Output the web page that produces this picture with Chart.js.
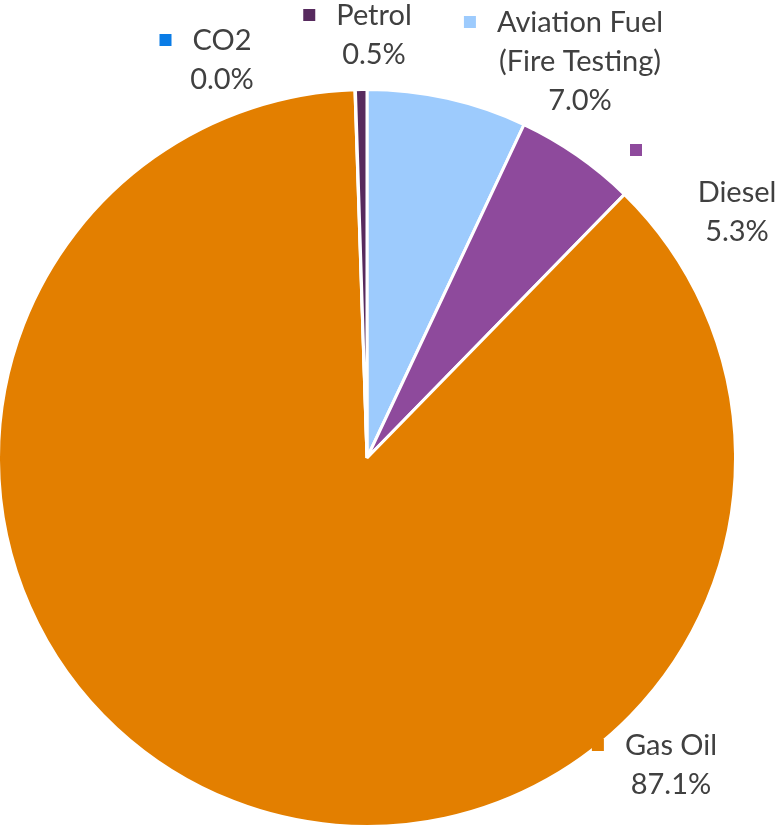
<!DOCTYPE html>
<html>
<head>
<meta charset="utf-8">
<script src="https://cdn.jsdelivr.net/npm/chart.js@4.4.0/dist/chart.umd.min.js"></script>
<style>
  html, body { margin: 0; padding: 0; background: #fff; overflow: hidden; }
  #wrap { width: 777px; height: 825px; overflow: hidden; position: relative; }
  #inner { position: absolute; left: -3px; top: -3px; width: 780px; height: 831px; }
</style>
</head>
<body>
<div id="wrap"><div id="inner"><canvas id="pie"></canvas></div></div>
<script>
// --- Data (clockwise from 12 o'clock) ---
const categories = ['Aviation Fuel (Fire Testing)', 'Diesel', 'Gas Oil', 'CO2', 'Petrol'];
const shares = [7.0, 5.3, 87.1, 0.02, 0.5];
const shareLabels = ['7.0%', '5.3%', '87.1%', '0.0%', '0.5%'];
const nameLines = [['Aviation Fuel', '(Fire Testing)'], ['Diesel'], ['Gas Oil'], ['CO2'], ['Petrol']];
const sliceColors = ['#9dcbfd', '#8e4a9c', '#e37f00', '#0a7ce6', '#572a5e'];

// label placement, offsets from pie centre: text column centre x, first baseline y
// key: legend key on its own row above the text (Excel wrap)
const labelLayout = [
  { cx: 213, y: -426 },
  { cx: 370, y: -256, key: [269, -308] },
  { cx: 304, y: 297 },
  { cx: -145, y: -408 },
  { cx: 7, y: -433 },
];

const FONT = '29px Lato';
const LINE_H = 39;
const KEY = 12;

const labelPlugin = {
  id: 'excelLabels',
  afterDatasetsDraw(chart) {
    const { ctx } = chart;
    const arcs = chart.getDatasetMeta(0).data;
    ctx.save();
    ctx.font = FONT;
    ctx.fillStyle = '#404040';
    ctx.textBaseline = 'alphabetic';
    ctx.textAlign = 'center';
    arcs.forEach((arc, i) => {
      const L = labelLayout[i];
      const x0 = arc.x + L.cx;
      const lines = nameLines[i].concat([shareLabels[i]]);
      lines.forEach((t, j) => ctx.fillText(t, x0, arc.y + L.y + j * LINE_H));
      let kx, ky;
      if (L.key) {
        kx = arc.x + L.key[0];
        ky = arc.y + L.key[1];
      } else {
        const w = ctx.measureText(lines[0]).width;
        kx = x0 - w / 2 - 27;
        ky = arc.y + L.y - 10;
      }
      ctx.fillStyle = sliceColors[i];
      ctx.fillRect(kx - KEY / 2, ky - KEY / 2, KEY, KEY);
      ctx.fillStyle = '#404040';
    });
    ctx.restore();
  }
};

new Chart(document.getElementById('pie'), {
  type: 'pie',
  data: {
    labels: categories,
    datasets: [{
      data: shares,
      backgroundColor: sliceColors,
      borderColor: '#ffffff',
      borderWidth: 3,
    }],
  },
  options: {
    responsive: true,
    maintainAspectRatio: false,
    animation: false,
    layout: { padding: { left: 0, right: 40, top: 91, bottom: 0 } },
    plugins: { legend: { display: false }, tooltip: { enabled: false } },
  },
  plugins: [labelPlugin],
});
</script>
</body>
</html>
